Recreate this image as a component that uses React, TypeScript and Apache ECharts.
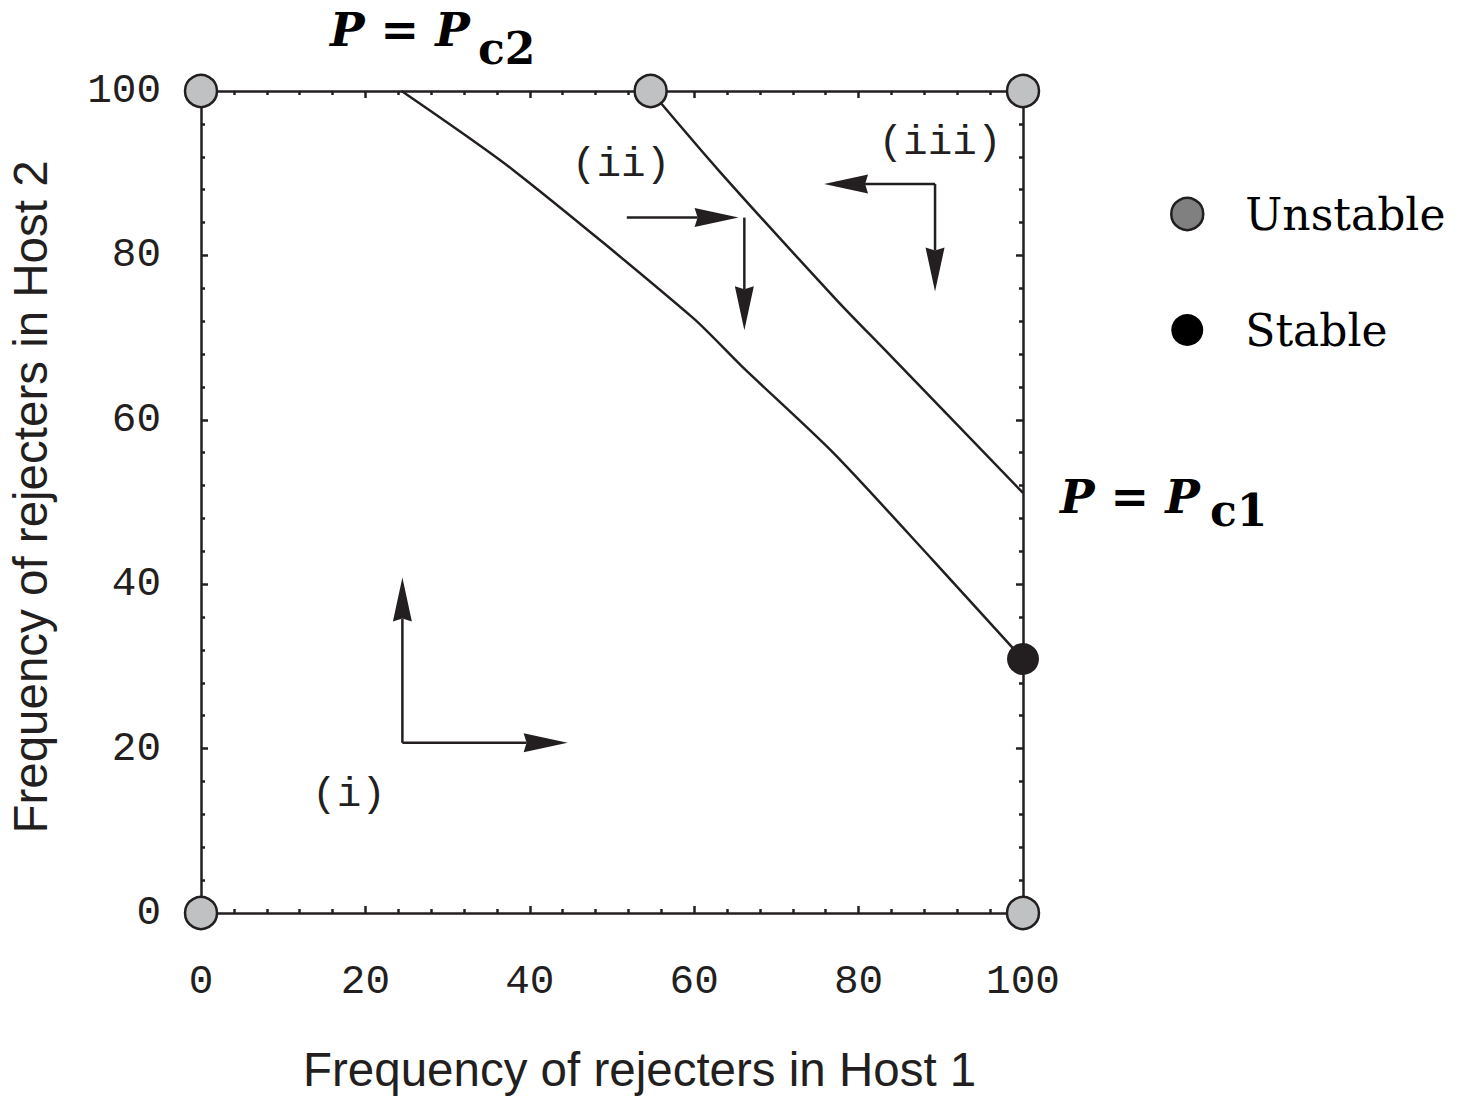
import React, { useEffect, useRef } from "react";
import * as echarts from "echarts";

// ---- data ----
const xTickValues = [0, 20, 40, 60, 80, 100];
const yTickValues = [0, 20, 40, 60, 80, 100];

const lowerBoundaryX = [24.4, 37.96, 59.85, 65.9, 76.9, 89.05, 98.8, 100];
const lowerBoundaryY = [100, 90.4, 72.4, 66.4, 56.0, 42.9, 32.2, 30.9];

const upperBoundaryX = [54.7, 63.1, 77.3, 83.2, 100];
const upperBoundaryY = [100, 90.2, 74.6, 68.5, 51.1];

const unstableX = [0, 0, 54.7, 100, 100];
const unstableY = [0, 100, 100, 100, 0];

const stableX = [100];
const stableY = [30.9];

// arrows: start (x1,y1) -> tip (x2,y2)
const arrowX1 = [24.5, 24.5, 51.8, 66.1, 89.3, 89.3];
const arrowY1 = [20.7, 20.7, 84.6, 84.6, 88.7, 88.7];
const arrowX2 = [24.5, 44.6, 65.4, 66.1, 75.8, 89.3];
const arrowY2 = [40.8, 20.7, 84.6, 70.9, 88.7, 75.6];

const regionLabels = ["(i)", "(ii)", "(iii)"];
const regionLabelX = [18.0, 51.1, 89.9];
const regionLabelY = [14.4, 91.0, 93.7];

const INK = "#231f20";
const MONO = "'Liberation Mono', 'Courier New', monospace";
const SERIF = "'DejaVu Serif', serif";
const SANS = "'Liberation Sans', Arial, sans-serif";

function makeAxis(position: string, showLabel: boolean, isX: boolean) {
  return {
    type: "value",
    min: 0,
    max: 100,
    interval: 20,
    position,
    axisLine: { show: true, onZero: false, lineStyle: { color: INK, width: 2.5 } },
    axisTick: { show: true, inside: true, length: 7, lineStyle: { color: INK, width: 2.5 } },
    minorTick: { show: true, splitNumber: 5, length: 4, lineStyle: { color: INK, width: 2.5 } },
    splitLine: { show: false },
    axisLabel: {
      show: showLabel,
      fontFamily: MONO,
      fontSize: 41,
      color: INK,
      margin: isX ? 48 : 40,
      formatter: (v: number) =>
        (isX ? xTickValues : yTickValues).includes(v) ? String(v) : "",
    },
  };
}

export default function App() {
  const ref = useRef<HTMLDivElement>(null);
  useEffect(() => {
    if (!ref.current) return;
    const chart = echarts.init(ref.current, null, { renderer: "svg" });

    const option: any = {
      animation: false,
      backgroundColor: "#ffffff",
      grid: { left: 201, right: 440, top: 91, bottom: 184, containLabel: false },
      xAxis: [makeAxis("bottom", true, true), makeAxis("top", false, true)],
      yAxis: [makeAxis("left", true, false), makeAxis("right", false, false)],
      legend: {
        orient: "vertical",
        left: 1165,
        top: 184,
        itemWidth: 32,
        itemHeight: 32,
        itemGap: 66,
        selectedMode: false,
        textStyle: {
          fontFamily: SERIF,
          fontSize: 44,
          color: "#000",
          padding: [0, 0, 0, 37],
          lineHeight: 50,
        },
        data: [
          {
            name: "Unstable",
            icon: "circle",
            itemStyle: { color: "#808080", borderColor: INK, borderWidth: 2.5 },
          },
          { name: "Stable", icon: "circle", itemStyle: { color: "#000", borderWidth: 0 } },
        ],
      },
      graphic: [
        {
          type: "text",
          left: 303,
          top: 1045,
          style: { text: "Frequency of rejecters in Host 1", font: `47.5px ${SANS}`, fill: INK },
        },
        {
          type: "text",
          x: 30,
          y: 497,
          rotation: Math.PI / 2,
          style: {
            text: "Frequency of rejecters in Host 2",
            font: `47.5px ${SANS}`,
            fill: INK,
            align: "center",
            verticalAlign: "middle",
          },
        },
        {
          type: "text",
          x: 330,
          y: 7,
          style: {
            text: "P = P",
            font: `italic bold 46px ${SERIF}`,
            fill: "#000",
            verticalAlign: "top",
          },
        },
        {
          type: "text",
          x: 478,
          y: 26,
          style: {
            text: "c2",
            font: `bold 44px ${SERIF}`,
            fill: "#000",
            verticalAlign: "top",
          },
        },
        {
          type: "text",
          x: 1060,
          y: 474,
          style: {
            text: "P = P",
            font: `italic bold 46px ${SERIF}`,
            fill: "#000",
            verticalAlign: "top",
          },
        },
        {
          type: "text",
          x: 1210,
          y: 488,
          style: {
            text: "c1",
            font: `bold 44px ${SERIF}`,
            fill: "#000",
            verticalAlign: "top",
          },
        },
      ],
      series: [
        {
          type: "line",
          name: "lower",
          data: lowerBoundaryX.map((x, i) => [x, lowerBoundaryY[i]]),
          smooth: 0.25,
          showSymbol: false,
          symbol: "none",
          lineStyle: { color: INK, width: 2.5 },
          z: 3,
        },
        {
          type: "line",
          name: "upper",
          data: upperBoundaryX.map((x, i) => [x, upperBoundaryY[i]]),
          smooth: 0.25,
          showSymbol: false,
          symbol: "none",
          lineStyle: { color: INK, width: 2.5 },
          z: 3,
        },
        {
          type: "custom",
          name: "arrows",
          clip: false,
          encode: { x: [0, 2], y: [1, 3] },
          data: arrowX1.map((x, i) => [x, arrowY1[i], arrowX2[i], arrowY2[i]]),
          renderItem: (params: any, api: any) => {
            const p1 = api.coord([api.value(0), api.value(1)]);
            const p2 = api.coord([api.value(2), api.value(3)]);
            const dx = p2[0] - p1[0];
            const dy = p2[1] - p1[1];
            const len = Math.hypot(dx, dy) || 1;
            const ux = dx / len;
            const uy = dy / len;
            const headLen = 44;
            const headW = 9.5;
            const notch = 3;
            const bx = p2[0] - ux * headLen;
            const by = p2[1] - uy * headLen;
            const nx = -uy;
            const ny = ux;
            return {
              type: "group",
              children: [
                {
                  type: "line",
                  shape: { x1: p1[0], y1: p1[1], x2: bx + ux * notch, y2: by + uy * notch },
                  style: { stroke: INK, lineWidth: 2.5 },
                },
                {
                  type: "polygon",
                  shape: {
                    points: [
                      [p2[0], p2[1]],
                      [bx + nx * headW, by + ny * headW],
                      [bx + ux * notch, by + uy * notch],
                      [bx - nx * headW, by - ny * headW],
                    ],
                  },
                  style: { fill: INK },
                },
              ],
            };
          },
          z: 4,
        },
        {
          type: "custom",
          name: "regions",
          clip: false,
          encode: { x: 0, y: 1 },
          data: regionLabelX.map((x, i) => [x, regionLabelY[i]]),
          renderItem: (params: any, api: any) => {
            const p = api.coord([api.value(0), api.value(1)]);
            return {
              type: "text",
              x: p[0],
              y: p[1],
              style: {
                text: regionLabels[params.dataIndex],
                font: `41px ${MONO}`,
                fill: INK,
                align: "center",
                verticalAlign: "middle",
              },
            };
          },
          z: 4,
        },
        {
          type: "scatter",
          name: "Unstable",
          clip: false,
          data: unstableX.map((x, i) => [x, unstableY[i]]),
          symbol: "circle",
          symbolSize: 32,
          itemStyle: { color: "#c0c1c3", borderColor: INK, borderWidth: 2.5, opacity: 1 },
          z: 5,
        },
        {
          type: "scatter",
          name: "Stable",
          clip: false,
          data: stableX.map((x, i) => [x, stableY[i]]),
          symbol: "circle",
          symbolSize: 32,
          itemStyle: { color: INK, opacity: 1 },
          z: 5,
        },
      ],
    };

    chart.setOption(option);
    return () => chart.dispose();
  }, []);

  return (
    <div
      ref={ref}
      style={{ position: "absolute", left: 0, top: 0, width: 1463, height: 1097, background: "#fff" }}
    />
  );
}
